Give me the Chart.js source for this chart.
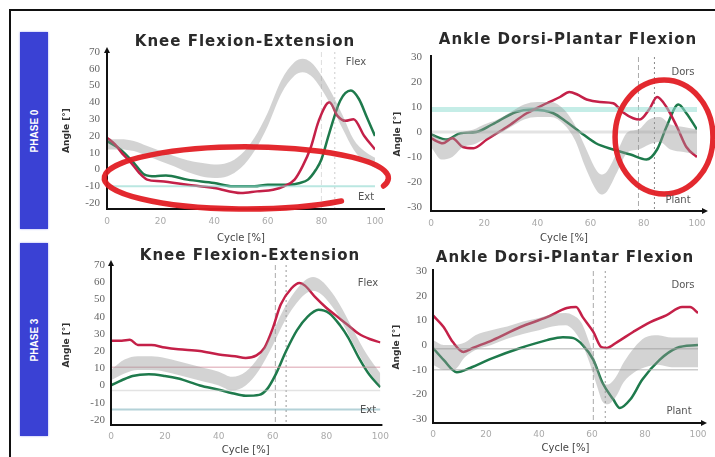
<!DOCTYPE html>
<html lang="en">
<head>
<meta charset="UTF-8" />
<title>Knee and Ankle Kinematics</title>
<script src="https://cdn.jsdelivr.net/npm/chart.js"></script>
<style>
  body { margin: 0; background: #fff; }
  #page { position: relative; width: 715px; height: 457px; overflow: hidden; background: #fff; }
  #frame { position: absolute; left: 9px; top: 9px; right: 0; bottom: 0; border-left: 2px solid #111; border-top: 2px solid #111; }
  .phase { position: absolute; left: 20px; width: 28px; background: #3a41d4; box-shadow: 0 0 2px #9ea2f2; }
  .phase span { position: absolute; left: 50%; top: 50%; transform: translate(-50%, -50%) rotate(-90deg);
    color: #fff; font: bold 10px "Liberation Sans", sans-serif; white-space: nowrap; }
  canvas { position: absolute; }
</style>
</head>
<body>
<div id="page">
  <div id="frame"></div>
  <div class="phase" style="top:32px;height:197px"><span>PHASE 0</span></div>
  <div class="phase" style="top:243px;height:193px"><span>PHASE 3</span></div>
  <canvas id="tl" width="335" height="226" style="left:60px;top:22px"></canvas>
  <canvas id="tr" width="330" height="226" style="left:385px;top:22px"></canvas>
  <canvas id="bl" width="335" height="219" style="left:60px;top:238px"></canvas>
  <canvas id="br" width="330" height="219" style="left:385px;top:238px"></canvas>
</div>

<script>
  // tick labels
  const cycleTicks = [0, 20, 40, 60, 80, 100];
  const kneeTicks = [-20, -10, 0, 10, 20, 30, 40, 50, 60, 70];
  const ankleTicks = [-30, -20, -10, 0, 10, 20, 30];

  // phase 0 - knee
  const tlBandX = [0, 5, 10, 15, 20, 25, 30, 35, 40, 45, 50, 55, 60, 65, 70, 73, 76, 80, 84, 88, 92, 96, 100];
  const tlBandHi = [18, 18, 17, 14, 11, 8, 5.5, 4, 3, 4, 9, 19, 34, 53, 64, 66, 64, 56, 45, 32, 18, 11, 7];
  const tlBandLo = [12, 12, 11, 8, 5, 2, -1.5, -4, -5, -4, 1, 11, 26, 45, 56, 58, 56, 48, 37, 24, 12, 5, 1];
  const tlRedX = [0, 3, 6, 9, 12, 15, 20, 30, 40, 50, 56, 62, 66, 70, 73, 76, 79, 83, 86, 89, 92, 96, 100];
  const tlRedY = [19, 15, 9, 4, -2, -6, -7, -9, -11, -14, -13, -12, -10, -6, 2, 13, 29, 40, 32, 29, 30, 20, 12];
  const tlGreenX = [0, 5, 10, 14, 18, 22, 30, 40, 47, 55, 60, 68, 72, 75, 78, 80, 83, 87, 91, 94, 97, 100];
  const tlGreenY = [17, 12, 4, -3, -4, -3.5, -6, -8, -10, -10, -9, -9, -8, -6, 0, 6, 22, 41, 47, 42, 31, 20];
  const tlRefLevels = [-10];
  const tlEvents = [80, 85];

  // phase 0 - ankle
  const trBandX = [0, 4, 8, 12, 16, 20, 25, 30, 35, 40, 45, 50, 54, 58, 62, 64, 66, 70, 74, 78, 82, 86, 90, 95, 100];
  const trBandHi = [0, -3, -2, 0, 1, 3, 5, 8, 11, 12, 12, 9, 3, -6, -15, -17, -16, -8, 0, 1, 5, 6, 3, 2, 1];
  const trBandLo = [-6, -11, -10, -6, -5, -3, -1, 2, 5, 6, 6, 3, -3, -14, -23, -25, -24, -16, -8, -7, -5, -4, -7, -8, -9];
  const trRedX = [0, 4.5, 8, 12, 16, 21, 28.5, 36, 43.5, 48.5, 52, 55, 58.5, 63.5, 68.5, 72, 76, 78.5, 82, 85, 88.5, 92.5, 96, 100];
  const trRedY = [-2.5, -4.5, -2.5, -6, -6.5, -3, 2, 7.5, 11.5, 14, 16, 15, 13, 12, 11.5, 8, 5.5, 5, 9, 14, 10, 2, -6, -10];
  const trGreenX = [0, 6, 11, 17, 23, 32, 38, 46, 51, 56, 62, 68.5, 75, 81, 85, 88.5, 93, 96, 100];
  const trGreenY = [-1, -3, -0.5, 0, 3, 8, 9, 7.5, 4, 0, -4.5, -7, -9, -11, -7, 2, 11, 7.5, 1];
  const trRefLevels = [9, 0];
  const trEvents = [78, 84];

  // phase 3 - knee
  const blBandX = [0, 5, 10, 15, 20, 25, 30, 35, 40, 45, 50, 55, 60, 64, 68, 72, 75, 78, 82, 86, 90, 95, 100];
  const blBandHi = [9, 15, 17, 17, 16, 14, 12, 10, 8, 5, 8, 17, 31, 44, 54, 61, 63, 61, 54, 44, 32, 18, 7];
  const blBandLo = [3, 7, 9, 9, 8, 6, 4, 2, 0, -3, 0, 9, 23, 36, 46, 53, 55, 53, 46, 36, 24, 10, -1];
  const blRedX = [0, 4, 7, 10, 15, 20, 25, 33, 40, 46, 50, 54, 57, 60, 63, 67, 70, 72, 76, 80, 84, 88, 92, 96, 100];
  const blRedY = [26, 26, 26.5, 23.5, 23.5, 22, 21, 20, 18, 17, 16, 17.5, 22, 33, 47, 56.5, 59.5, 58, 51, 45, 40, 35, 30, 27, 25];
  const blGreenX = [0, 4, 8, 14, 20, 25, 33, 40, 45, 50, 55, 58, 61, 65, 69, 73, 77, 81, 85, 88, 92, 96, 100];
  const blGreenY = [0, 3, 5.5, 6.5, 5.5, 4, 0, -2.5, -4.5, -6, -5.5, -2, 6, 20, 32, 40, 44, 42, 35, 28, 16, 6, -1];
  const blRefLevels = [10.5, -3, -14];
  const blEvents = [61, 65];

  // phase 3 - ankle
  const brBandX = [0, 4, 8, 12, 16, 22, 28, 34, 40, 45, 50, 53, 56, 59, 62, 64, 66, 69, 72, 76, 80, 85, 90, 95, 100];
  const brBandHi = [2, 0, 0, 1, 4, 6, 7.5, 9.5, 11, 12.5, 13, 12, 9, 1, -9, -15, -16, -13, -7, -1, 3, 4, 3, 3, 3];
  const brBandLo = [-8, -10, -10, -5, -2, 0, 2.5, 4.5, 6, 7.5, 8, 6, 1, -7, -17, -23, -24, -21, -15, -11, -9, -8, -9, -9, -9];
  const brRedX = [0, 4, 7.5, 11.5, 15, 22.5, 33, 43, 50.5, 54, 56.5, 60.5, 63.5, 65.5, 69.5, 75.5, 82, 88, 94, 97, 100];
  const brRedY = [12, 7.3, 1.2, -2.8, -1.2, 2, 7.3, 11.3, 15, 15.4, 11.3, 5.3, -0.8, -1.2, 1.2, 5.3, 9.3, 12, 15.4, 15.4, 13];
  const brGreenX = [0, 4, 9, 14, 22.5, 33, 43, 49, 53, 56.5, 60.5, 64, 68, 70.5, 74.5, 79, 85.5, 92, 100];
  const brGreenY = [-1.2, -6, -11, -9.3, -5.3, -1.2, 2, 3.2, 2.8, 0, -6, -15.4, -22, -25.5, -22, -14, -6, -1.2, 0];
  const brRefLevels = [-1.5, -10];
  const brEvents = [60.5, 65];

  const RED = "rgb(196, 32, 72)";
  const GREEN = "rgb(30, 122, 76)";
  const BAND = "rgba(150, 150, 150, 0.42)";

  function pts(xs, ys) {
    return xs.map((v, i) => ({ x: v, y: ys[i] }));
  }

  // axes with arrows, dashed event lines, titles and the red marks
  const panelDecor = {
    id: "panelDecor",
    beforeDatasetsDraw(chart, args, o) {
      const { ctx, chartArea: a, scales } = chart;
      ctx.save();
      o.events.forEach((ev, i) => {
        const px = scales.x.getPixelForValue(ev);
        ctx.strokeStyle = o.eventColors[i];
        ctx.lineWidth = 1;
        ctx.setLineDash(i ? [2, 3] : [5, 3]);
        ctx.beginPath();
        ctx.moveTo(px, a.top);
        ctx.lineTo(px, a.bottom);
        ctx.stroke();
      });
      ctx.restore();
    },
    afterDatasetsDraw(chart, args, o) {
      const { ctx, chartArea: a, scales } = chart;
      const x = scales.x, y = scales.y;
      ctx.save();
      ctx.strokeStyle = "#111";
      ctx.fillStyle = "#111";
      ctx.lineWidth = 2;
      ctx.beginPath();
      ctx.moveTo(a.left, a.top - 2);
      ctx.lineTo(a.left, a.bottom);
      ctx.lineTo(a.right + o.xExt, a.bottom);
      ctx.stroke();
      if (o.yArrow) {
        ctx.beginPath();
        ctx.moveTo(a.left, a.top - 5);
        ctx.lineTo(a.left - 3, a.top + 1);
        ctx.lineTo(a.left + 3, a.top + 1);
        ctx.fill();
      }
      if (o.xArrow) {
        const ex = a.right + o.xExt;
        ctx.beginPath();
        ctx.moveTo(ex + 3, a.bottom);
        ctx.lineTo(ex - 3, a.bottom - 3);
        ctx.lineTo(ex - 3, a.bottom + 3);
        ctx.fill();
      }

      if (o.ring) {
        const r = o.ring;
        const cx = x.getPixelForValue(r.cx), cy = y.getPixelForValue(r.cy);
        const rx = x.getPixelForValue(r.cx + r.rx) - cx;
        const ry = cy - y.getPixelForValue(r.cy + r.ry);
        ctx.strokeStyle = "rgba(226, 30, 36, 0.95)";
        ctx.lineWidth = 5.5;
        ctx.lineCap = "round";
        ctx.beginPath();
        ctx.ellipse(cx, cy, rx, ry, 0, (r.from * Math.PI) / 180, (r.to * Math.PI) / 180);
        ctx.stroke();
      }

      ctx.fillStyle = "#2a2a2a";
      ctx.textAlign = "center";
      ctx.textBaseline = "middle";
      ctx.font = 'bold 15px "DejaVu Sans", sans-serif';
      ctx.letterSpacing = "1px";
      ctx.fillText(o.title[0], o.title[1], o.title[2]);
      ctx.letterSpacing = "0px";
      ctx.font = '10px "DejaVu Sans", sans-serif';
      ctx.fillStyle = "#555";
      o.tags.forEach((t) => ctx.fillText(t[0], t[1], t[2]));
      ctx.restore();
    },
  };

  function drawPanel(id, p) {
    const datasets = [
      { data: pts(p.bandX, p.bandLo), borderWidth: 0, pointRadius: 0, fill: false, cubicInterpolationMode: "monotone" },
      { data: pts(p.bandX, p.bandHi), borderWidth: 0, pointRadius: 0, fill: "-1", backgroundColor: BAND, cubicInterpolationMode: "monotone" },
    ];
    p.refs.forEach((v, i) => {
      datasets.push({ data: pts([0, 100], [v, v]), borderColor: p.refColors[i], borderWidth: p.refWidths[i], pointRadius: 0 });
    });
    datasets.push({ data: pts(p.redX, p.redY), borderColor: RED, borderWidth: 2.5, pointRadius: 0, cubicInterpolationMode: "monotone" });
    datasets.push({ data: pts(p.greenX, p.greenY), borderColor: GREEN, borderWidth: 2.5, pointRadius: 0, cubicInterpolationMode: "monotone" });

    new Chart(document.getElementById(id), {
      type: "line",
      data: { datasets },
      plugins: [panelDecor],
      options: {
        responsive: false,
        animation: false,
        layout: { padding: p.pad },
        plugins: {
          legend: { display: false },
          tooltip: { enabled: false },
          panelDecor: p.decor,
        },
        scales: {
          x: {
            type: "linear",
            min: 0,
            max: 100,
            afterBuildTicks: (s) => { s.ticks = cycleTicks.map((v) => ({ value: v })); },
            afterFit: (s) => { s.height = p.xHeight; },
            grid: { display: false, drawTicks: false },
            border: { display: false },
            ticks: { padding: p.xTickPad, maxRotation: 0, color: "#aaa", font: { family: "DejaVu Sans", size: 9 } },
            title: { display: true, text: "Cycle [%]", color: "#444", padding: { top: 0, bottom: p.xTitlePad },
              font: { family: "DejaVu Sans", size: 10 } },
          },
          y: {
            min: p.yMin,
            max: p.yMax,
            afterBuildTicks: (s) => { s.ticks = p.yTicks.map((v) => ({ value: v })); },
            afterFit: (s) => { s.width = p.yWidth; },
            grid: { display: false, drawTicks: false },
            border: { display: false },
            ticks: { padding: p.yTickPad, color: "#666", font: { family: "Liberation Serif", size: 11 } },
            title: { display: true, text: "Angle [°]", color: "#333", padding: { top: p.yTitlePad, bottom: 0 },
              font: { family: "DejaVu Sans", size: 9, weight: "bold" } },
          },
        },
      },
    });
  }

  drawPanel("tl", {
    bandX: tlBandX, bandHi: tlBandHi, bandLo: tlBandLo,
    redX: tlRedX, redY: tlRedY, greenX: tlGreenX, greenY: tlGreenY,
    refs: tlRefLevels, refColors: ["rgba(140, 215, 205, 0.6)"], refWidths: [2],
    yMin: -23.5, yMax: 70, yTicks: kneeTicks,
    pad: { left: 0, top: 30, right: 20, bottom: 0 },
    yWidth: 47, xHeight: 39, xTickPad: 7, xTitlePad: 4, yTitlePad: 1, yTickPad: 7,
    decor: {
      events: tlEvents, eventColors: ["#ddd", "#ccc"], xExt: 10, yArrow: true, xArrow: false,
      ring: { cx: 52, cy: -5, rx: 53, ry: 18.5, from: 48, to: 375 },
      title: ["Knee Flexion-Extension", 185, 20],
      tags: [["Flex", 296, 40], ["Ext", 306, 175]],
    },
  });

  drawPanel("tr", {
    bandX: trBandX, bandHi: trBandHi, bandLo: trBandLo,
    redX: trRedX, redY: trRedY, greenX: trGreenX, greenY: trGreenY,
    refs: trRefLevels, refColors: ["rgba(150, 222, 212, 0.55)", "rgba(200, 200, 200, 0.5)"], refWidths: [5, 3],
    yMin: -31.6, yMax: 30, yTicks: ankleTicks,
    pad: { left: 0, top: 35, right: 18, bottom: 0 },
    yWidth: 46, xHeight: 37, xTickPad: 7, xTitlePad: 4, yTitlePad: 7, yTickPad: 9,
    decor: {
      events: trEvents, eventColors: ["#aaa", "#888"], xExt: 8, yArrow: false, xArrow: true,
      ring: { cx: 87.6, cy: -2, rx: 18.4, ry: 22.8, from: 0, to: 360 },
      title: ["Ankle Dorsi-Plantar Flexion", 183, 18],
      tags: [["Dors", 298, 50], ["Plant", 293, 178]],
    },
  });

  drawPanel("bl", {
    bandX: blBandX, bandHi: blBandHi, bandLo: blBandLo,
    redX: blRedX, redY: blRedY, greenX: blGreenX, greenY: blGreenY,
    refs: blRefLevels,
    refColors: ["rgba(215, 150, 165, 0.6)", "rgba(200, 200, 200, 0.5)", "rgba(130, 180, 190, 0.6)"], refWidths: [1.5, 1.5, 2],
    yMin: -23, yMax: 70, yTicks: kneeTicks,
    pad: { left: 0, top: 27, right: 12, bottom: 0 },
    yWidth: 51, xHeight: 32, xTickPad: 6, xTitlePad: 1, yTitlePad: 1, yTickPad: 6,
    decor: {
      events: blEvents, eventColors: ["#aaa", "#999"], xExt: 2, yArrow: true, xArrow: false,
      title: ["Knee Flexion-Extension", 190, 18],
      tags: [["Flex", 308, 45], ["Ext", 308, 172]],
    },
  });

  drawPanel("br", {
    bandX: brBandX, bandHi: brBandHi, bandLo: brBandLo,
    redX: brRedX, redY: brRedY, greenX: brGreenX, greenY: brGreenY,
    refs: brRefLevels, refColors: ["rgba(170, 170, 170, 0.6)", "rgba(170, 170, 170, 0.6)"], refWidths: [1.5, 1.5],
    yMin: -31.6, yMax: 30, yTicks: ankleTicks,
    pad: { left: 0, top: 33, right: 17, bottom: 0 },
    yWidth: 48, xHeight: 34, xTickPad: 6, xTitlePad: 3, yTitlePad: 6, yTickPad: 6,
    decor: {
      events: brEvents, eventColors: ["#aaa", "#999"], xExt: 6, yArrow: false, xArrow: true,
      title: ["Ankle Dorsi-Plantar Flexion", 180, 20],
      tags: [["Dors", 298, 47], ["Plant", 294, 173]],
    },
  });
</script>
</body>
</html>
